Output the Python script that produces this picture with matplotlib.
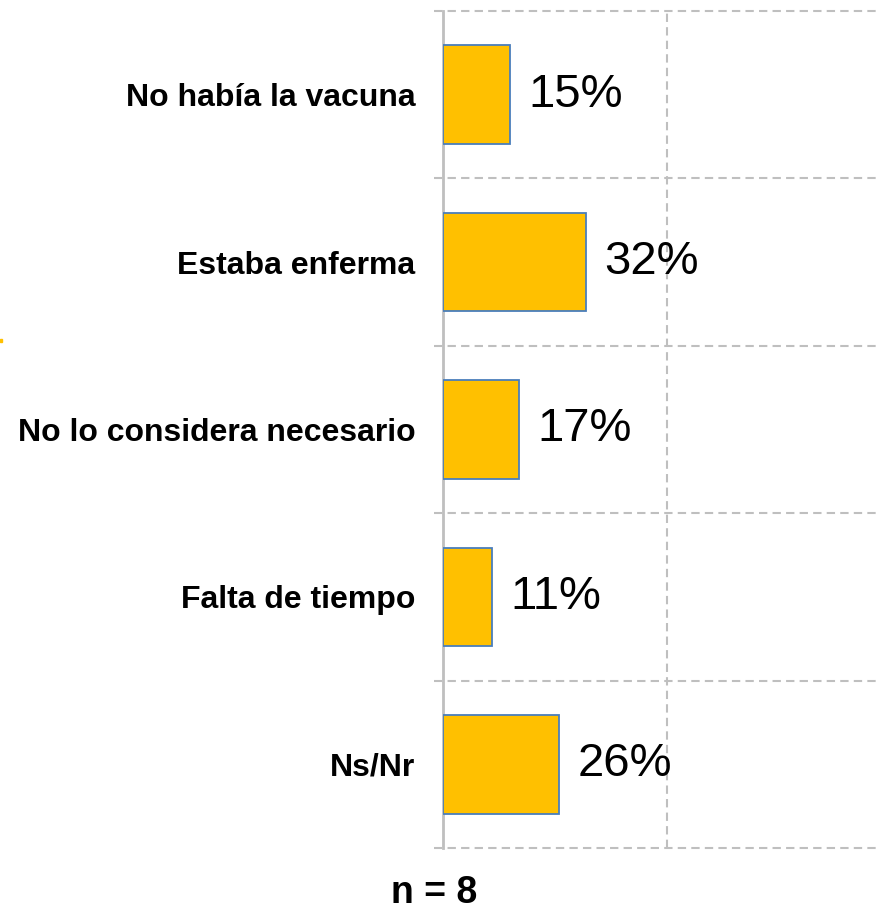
import matplotlib
matplotlib.use("Agg")
import matplotlib.pyplot as plt
from matplotlib.patches import Rectangle

categories = ["No había la vacuna", "Estaba enferma", "No lo considera necesario", "Falta de tiempo", "Ns/Nr"]
values = [0.15, 0.32, 0.17, 0.11, 0.26]
value_labels = ["15%", "32%", "17%", "11%", "26%"]
footer = "n = 8"

plt.rcParams['font.family'] = ['Liberation Sans', 'DejaVu Sans']

W, H = 879, 911
fig = plt.figure(figsize=(W / 100, H / 100), dpi=100)
ax = fig.add_axes([443 / W, 1 - 848 / H, 1 - 443 / W, (848 - 11) / H])

grid_c = '#BFBFBF'
y = list(range(len(categories)))
ax.barh(y, values, height=0.59, color='#FFC000', edgecolor='#4A7EBB', linewidth=1.3, zorder=3)

ax.set_xlim(0, (W - 443) / 447)
ax.set_ylim(len(categories) - 0.5, -0.5)

# grid
for b in [i - 0.5 for i in range(len(categories) + 1)]:
    ax.axhline(b, xmin=-9 / 436, xmax=1, color=grid_c, linestyle=(0, (4, 2.5)), linewidth=1.5,
               clip_on=False, zorder=1)
ax.axvline(0.5, color=grid_c, linestyle=(0, (4, 2.5)), linewidth=1.5, zorder=1)

for s in ['top', 'right', 'bottom']:
    ax.spines[s].set_visible(False)
ax.spines['left'].set_color(grid_c)
ax.spines['left'].set_linewidth(2)
ax.spines['left'].set_zorder(2)

ax.set_xticks([])
ax.set_yticks(y)
ax.set_yticklabels(categories, fontsize=23, fontweight='bold')
ax.tick_params(axis='y', length=0, pad=20)

for yi, v, lab in zip(y, values, value_labels):
    ax.annotate(lab, xy=(v, yi), xytext=(13, 0), textcoords='offset points',
                ha='left', va='center', fontsize=34, color='black', zorder=4)

fig.text(434 / W, 1 - 903 / H, footer, ha='center', va='baseline', fontsize=27, fontweight='bold')

# small yellow artifact at left edge
fig.patches.append(Rectangle((0, 1 - 342 / H), 2 / W, 3 / H, transform=fig.transFigure,
                             color='#FFC000', zorder=5))

fig.savefig('out.png', dpi=100)
